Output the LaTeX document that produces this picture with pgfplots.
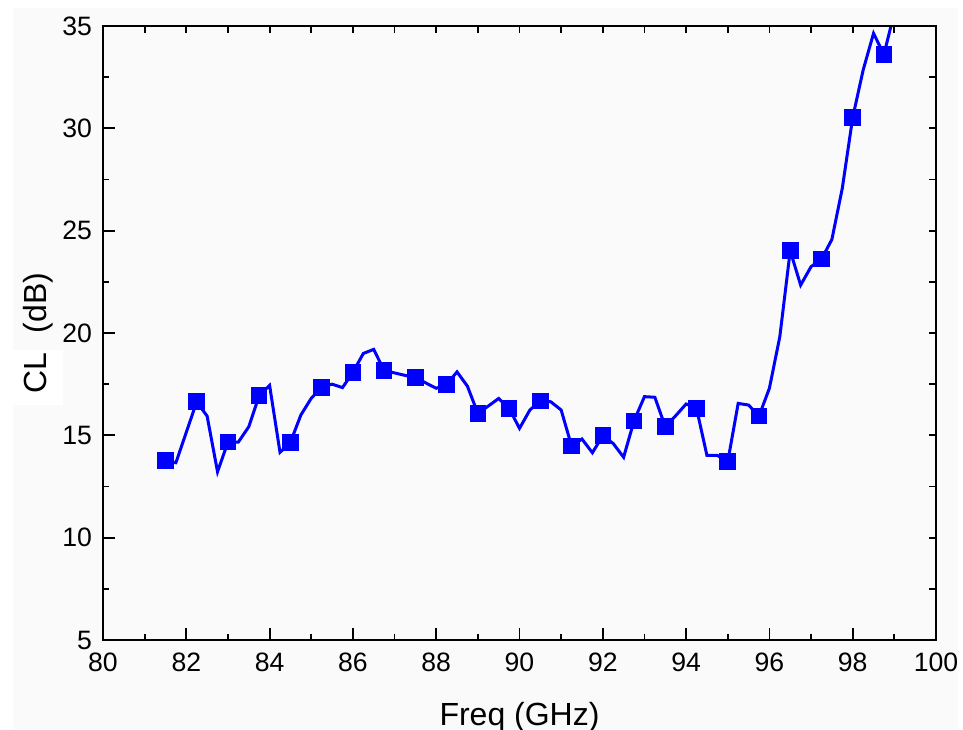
\documentclass[border=0pt]{standalone}
\usepackage{fontspec}
\setmainfont{Liberation Sans}
\usepackage{pgfplots}
\pgfplotsset{compat=1.18}

\definecolor{bggray}{RGB}{250,250,250}

\pgfplotstableread{
f cl
81.5 13.76
81.75 13.66
82.0 15.15
82.25 16.64
82.5 15.94
82.75 13.22
83.0 14.67
83.25 14.67
83.5 15.42
83.75 16.95
84.0 17.44
84.25 14.17
84.5 14.66
84.75 15.99
85.0 16.81
85.25 17.35
85.5 17.50
85.75 17.33
86.0 18.08
86.25 19.00
86.5 19.20
86.75 18.16
87.0 18.05
87.25 17.93
87.5 17.82
87.75 17.56
88.0 17.30
88.25 17.49
88.5 18.10
88.75 17.40
89.0 16.07
89.25 16.43
89.5 16.80
89.75 16.32
90.0 15.34
90.25 16.24
90.5 16.68
90.75 16.64
91.0 16.24
91.25 14.48
91.5 14.82
91.75 14.15
92.0 14.98
92.25 14.60
92.5 13.93
92.75 15.71
93.0 16.89
93.25 16.86
93.5 15.42
93.75 15.96
94.0 16.53
94.25 16.32
94.5 14.02
94.75 14.02
95.0 13.71
95.25 16.56
95.5 16.48
95.75 15.94
96.0 17.30
96.25 19.82
96.5 24.02
96.75 22.34
97.0 23.24
97.25 23.61
97.5 24.57
97.75 27.07
98.0 30.53
98.25 32.84
98.5 34.64
98.75 33.61
99.0 35.66
}\cldata

\begin{document}
\begin{tikzpicture}
  % canvas 963x729 px at 0.5pt per px
  \path[use as bounding box] (0,0) rectangle (481.5pt,364.5pt);
  \fill[bggray] (6.5pt,0) rectangle (479pt,360.5pt);
  \fill[white] (6.5pt,162pt) rectangle (31.5pt,189.5pt);
  \begin{axis}[
      at={(51.5pt,44.5pt)}, anchor=south west,
      scale only axis, width=416.5pt, height=307pt,
      xmin=80, xmax=100, ymin=5, ymax=35,
      xtick={80,82,...,100}, ytick={5,10,...,35},
      minor x tick num=1, minor y tick num=1,
      tick pos=left, tick align=inside,
      major tick length=6pt, minor tick length=3pt,
      every tick/.style={black, line width=0.9pt},
      axis line style={line width=1pt},
      /pgf/number format/assume math mode=true,
      ticklabel style={font=\fontsize{13.3}{15}\selectfont},
      xticklabel style={yshift=-3pt},
      yticklabel style={xshift=-2pt},
      label style={font=\fontsize{16}{19}\selectfont},
      xlabel={Freq (GHz)},
      xlabel style={at={(axis description cs:0.5,0)}, anchor=base, yshift=-42.5pt},
      ylabel={CL\hspace{0.6em}(dB)},
      ylabel style={at={(axis description cs:-0.078,0.5)}, anchor=center},
    ]
    \addplot[blue, line width=1.5pt, mark=square*, mark repeat=3,
      mark options={solid, mark size=3.4pt}] table[x=f, y=cl] {\cldata};
  \end{axis}
  \begin{axis}[
      at={(51.5pt,44.5pt)}, anchor=south west,
      scale only axis, width=416.5pt, height=307pt,
      xmin=80, xmax=100, ymin=5, ymax=35,
      xtick={80,81,...,100}, ytick={5,7.5,...,35},
      xticklabels={}, yticklabels={},
      tick pos=right, tick align=inside,
      major tick length=3.5pt,
      every tick/.style={black, line width=0.9pt},
      axis line style={line width=1pt},
    ]
  \end{axis}
\end{tikzpicture}
\end{document}
